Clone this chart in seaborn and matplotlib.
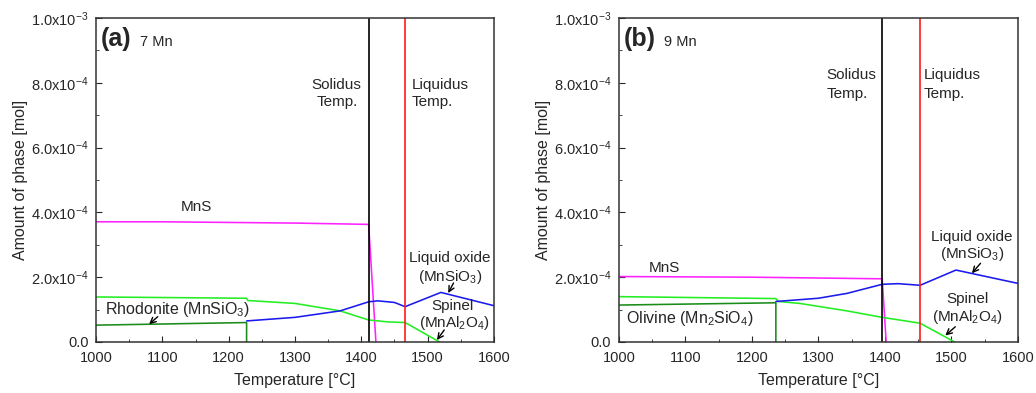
# Amount of phase vs temperature, 7 Mn and 9 Mn
import numpy as np
import pandas as pd
import seaborn as sns
import matplotlib
matplotlib.use('Agg')
import matplotlib.pyplot as plt
from matplotlib.ticker import MultipleLocator, FuncFormatter

# (a) 7 Mn
mns_a_t = [1000, 1100, 1200, 1300, 1411, 1422]
mns_a_y = [3.71, 3.71, 3.69, 3.67, 3.63, 0.0]
spinel_a_t = [1000, 1227, 1229, 1300, 1368, 1411, 1440, 1466, 1518]
spinel_a_y = [1.39, 1.35, 1.28, 1.19, 0.96, 0.68, 0.62, 0.60, 0.0]
rhod_a_t = [1000, 1227, 1227]
rhod_a_y = [0.52, 0.60, 0.0]
liq_a_t = [1227, 1300, 1368, 1411, 1425, 1450, 1466, 1520, 1600]
liq_a_y = [0.65, 0.76, 0.96, 1.24, 1.27, 1.22, 1.09, 1.53, 1.12]
solidus_a, liquidus_a = 1411, 1466

# (b) 9 Mn
mns_b_t = [1000, 1200, 1396, 1402]
mns_b_y = [2.02, 2.00, 1.95, 0.0]
spinel_b_t = [1000, 1236, 1240, 1272, 1343, 1396, 1453, 1505]
spinel_b_y = [1.40, 1.34, 1.25, 1.19, 0.96, 0.76, 0.58, 0.0]
oliv_b_t = [1000, 1236, 1236]
oliv_b_y = [1.14, 1.21, 0.0]
liq_b_t = [1236, 1300, 1343, 1396, 1420, 1453, 1507, 1600]
liq_b_y = [1.25, 1.35, 1.50, 1.78, 1.80, 1.75, 2.22, 1.81]
solidus_b, liquidus_b = 1396, 1453

sns.set_style('ticks')
plt.rcParams['font.family'] = ['Liberation Sans', 'DejaVu Sans']
plt.rcParams['mathtext.fontset'] = 'custom'
plt.rcParams['mathtext.rm'] = 'Liberation Sans'
plt.rcParams['mathtext.it'] = 'Liberation Sans:italic'
plt.rcParams['mathtext.bf'] = 'Liberation Sans:bold'
plt.rcParams['mathtext.default'] = 'regular'

fig = plt.figure(figsize=(10.36, 3.93), dpi=100)
ax_a = fig.add_axes([0.0927, 0.1298, 0.3841, 0.8244])
ax_b = fig.add_axes([0.5975, 0.1298, 0.3849, 0.8244])


def serie(ax, t, y, color, lw=1.15):
    df = pd.DataFrame({'T': t, 'n': np.array(y) * 1e-4})
    sns.lineplot(data=df, x='T', y='n', ax=ax, color=color, lw=lw,
                 sort=False, estimator=None)


def fmt_y(v, pos):
    if abs(v) < 1e-12:
        return '0.0'
    if v < 0:
        return ''
    e = int(np.floor(np.log10(v) + 1e-9))
    return r'%.1fx10$^{%d}$' % (v / 10 ** e, e)


def ejes(ax, solidus, liquidus):
    ax.axvline(solidus, color='black', lw=1.2)
    ax.axvline(liquidus, color='#ff1a1a', lw=1.2)
    ax.set_xlim(1000, 1600)
    ax.set_ylim(0, 1e-3)
    ax.xaxis.set_major_locator(MultipleLocator(100))
    ax.xaxis.set_minor_locator(MultipleLocator(50))
    ax.yaxis.set_major_locator(MultipleLocator(2e-4))
    ax.yaxis.set_minor_locator(MultipleLocator(1e-4))
    ax.yaxis.set_major_formatter(FuncFormatter(fmt_y))
    ax.tick_params(which='both', direction='in', labelsize=10.5, top=False, right=False)
    ax.tick_params(axis='x', which='major', length=4, pad=6.5)
    ax.tick_params(axis='y', which='major', length=4, pad=5.5)
    ax.tick_params(which='minor', length=2.5)
    ax.set_xlabel('Temperature [°C]', fontsize=11.5, labelpad=6)
    ax.set_ylabel('Amount of phase [mol]', fontsize=11.5, labelpad=2)
    for s in ax.spines.values():
        s.set_linewidth(1.1)
        s.set_color('#333333')


def nota(ax, t, y, texto, ha='center'):
    ax.text(t, y, texto, fontsize=11, ha=ha, va='center')


def flecha(ax, cola, punta):
    ax.annotate('', xy=punta, xytext=cola,
                arrowprops=dict(arrowstyle='->', color='black', lw=1.0, shrinkA=0, shrinkB=0))


# panel (a)
serie(ax_a, mns_a_t, mns_a_y, '#ff22ff')
serie(ax_a, spinel_a_t, spinel_a_y, '#22ee22')
serie(ax_a, rhod_a_t, rhod_a_y, '#1a8c1a')
serie(ax_a, liq_a_t, liq_a_y, '#1a1aee')
ejes(ax_a, solidus_a, liquidus_a)
ax_a.text(1007, 9.36e-4, '(a)', fontsize=18, fontweight='bold', va='center')
ax_a.text(1067, 9.26e-4, '7 Mn', fontsize=10.5, va='center')
ax_a.text(1128, 4.05e-4, 'MnS', fontsize=11)
nota(ax_a, 1363, 7.93e-4, 'Solidus')
nota(ax_a, 1363, 7.41e-4, 'Temp.')
nota(ax_a, 1476, 7.93e-4, 'Liquidus', ha='left')
nota(ax_a, 1476, 7.41e-4, 'Temp.', ha='left')
nota(ax_a, 1534, 2.59e-4, 'Liquid oxide')
nota(ax_a, 1534, 2.02e-4, '(MnSiO$_3$)')
flecha(ax_a, (1539, 1.82e-4), (1531, 1.51e-4))
nota(ax_a, 1538, 1.12e-4, 'Spinel')
nota(ax_a, 1541, 0.60e-4, '(MnAl$_2$O$_4$)')
flecha(ax_a, (1525, 0.37e-4), (1514, 0.06e-4))
ax_a.text(1122, 1.01e-4, 'Rhodonite (MnSiO$_3$)', fontsize=11.5, ha='center', va='center')
flecha(ax_a, (1093, 0.78e-4), (1080, 0.55e-4))

# panel (b)
serie(ax_b, mns_b_t, mns_b_y, '#ff22ff')
serie(ax_b, spinel_b_t, spinel_b_y, '#22ee22')
serie(ax_b, oliv_b_t, oliv_b_y, '#1a8c1a')
serie(ax_b, liq_b_t, liq_b_y, '#1a1aee')
ejes(ax_b, solidus_b, liquidus_b)
ax_b.text(1007, 9.36e-4, '(b)', fontsize=18, fontweight='bold', va='center')
ax_b.text(1067, 9.26e-4, '9 Mn', fontsize=10.5, va='center')
ax_b.text(1045, 2.15e-4, 'MnS', fontsize=11)
nota(ax_b, 1312, 8.24e-4, 'Solidus', ha='left')
nota(ax_b, 1312, 7.65e-4, 'Temp.', ha='left')
nota(ax_b, 1459, 8.24e-4, 'Liquidus', ha='left')
nota(ax_b, 1459, 7.65e-4, 'Temp.', ha='left')
nota(ax_b, 1531, 3.25e-4, 'Liquid oxide')
nota(ax_b, 1531, 2.72e-4, '(MnSiO$_3$)')
flecha(ax_b, (1544, 2.43e-4), (1531, 2.12e-4))
nota(ax_b, 1524, 1.32e-4, 'Spinel')
nota(ax_b, 1524, 0.78e-4, '(MnAl$_2$O$_4$)')
flecha(ax_b, (1506, 0.47e-4), (1491, 0.2e-4))
ax_b.text(1010, 0.73e-4, 'Olivine (Mn$_2$SiO$_4$)', fontsize=11.5, va='center')

plt.savefig('out.png', dpi=100)
